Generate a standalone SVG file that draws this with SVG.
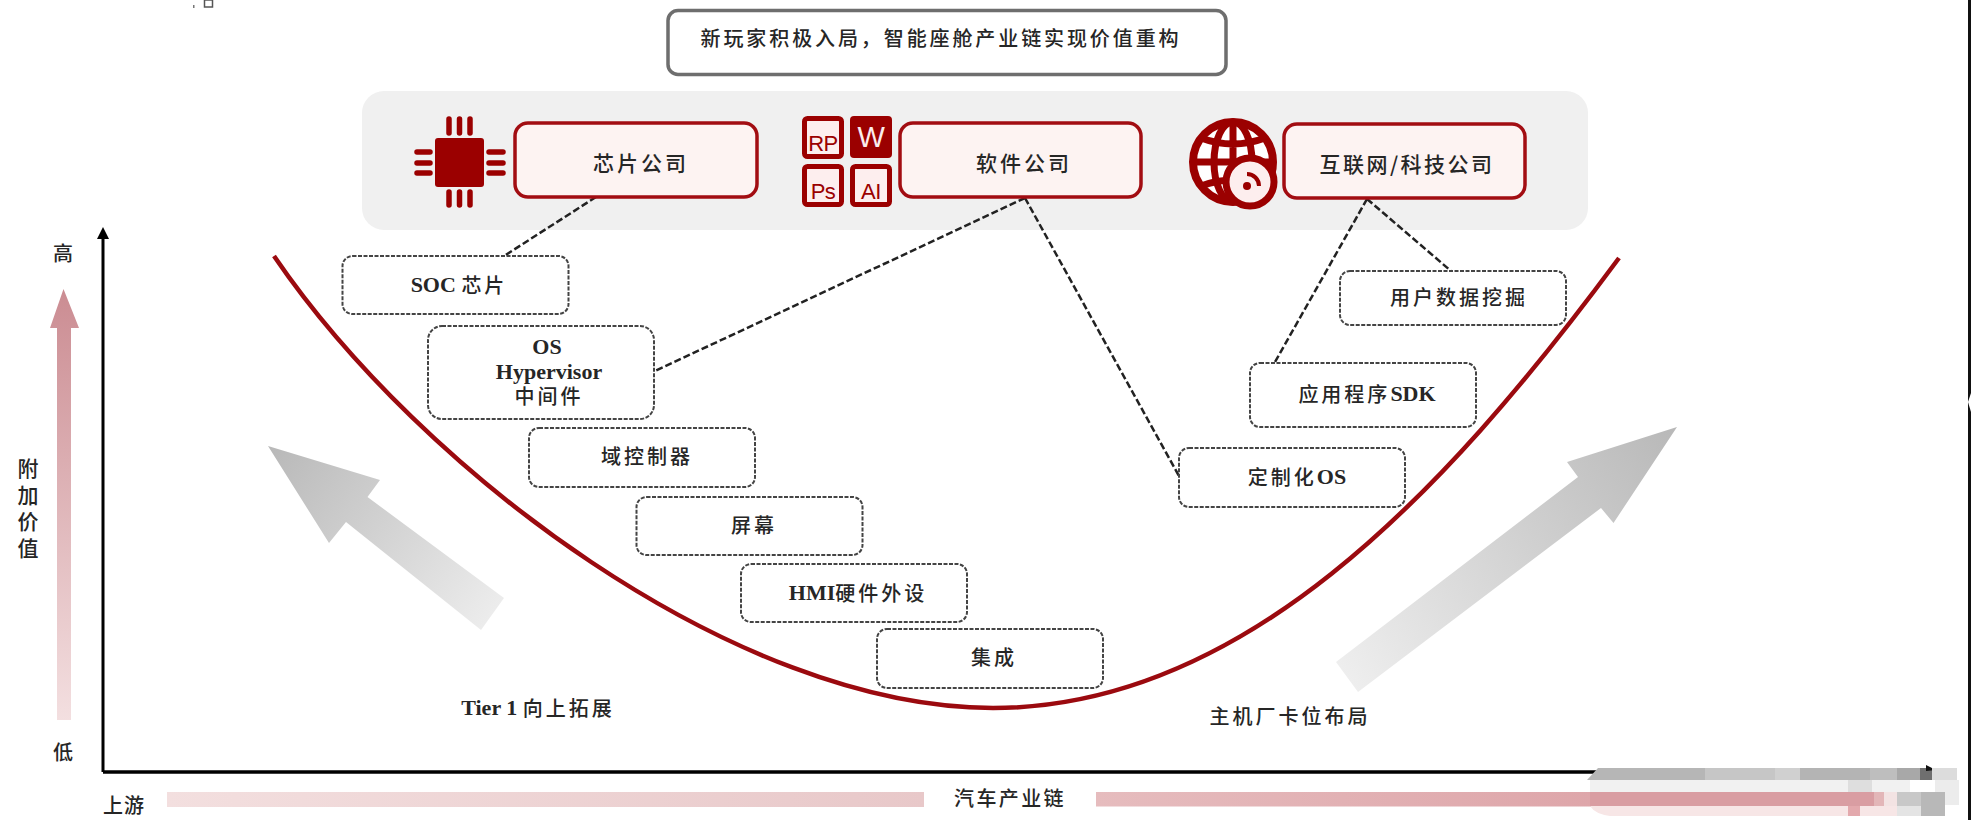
<svg xmlns="http://www.w3.org/2000/svg" width="1971" height="820" viewBox="0 0 1971 820">
<style>
text{font-family:"Liberation Serif","Noto Sans CJK SC",serif;fill:#262626;text-anchor:middle;dominant-baseline:central}
.cn{font-family:"Noto Sans CJK SC",sans-serif;font-size:20px;letter-spacing:3px;font-weight:500}
.mix{font-size:22px;font-weight:700}
.h{font-family:"Noto Sans CJK SC",sans-serif;font-weight:500;font-size:20px;letter-spacing:3px}
.top{fill:#fff;stroke:#6e6e6e;stroke-width:3.5}
.co{fill:#fdf3f2;stroke:#a20d12;stroke-width:3.5}
.dash{fill:#fff;stroke:#444;stroke-width:2;stroke-dasharray:4 1.5}
.conn{fill:none;stroke:#222;stroke-width:2.5;stroke-dasharray:7 3}
.red{fill:#9b0000}
.pin{stroke:#9b0000;stroke-width:5.5;stroke-linecap:round}
.app{fill:#fdeeee;stroke:#9b0000;stroke-width:5}
.appt{font-family:"Liberation Sans",sans-serif;fill:#9b0000;font-size:22px;letter-spacing:-.5px}
</style>
<defs>
<linearGradient id="gv" x1="0" y1="0" x2="0" y2="1"><stop offset="0" stop-color="#cb8c92"/><stop offset="1" stop-color="#f3dfe0"/></linearGradient>
<linearGradient id="gl" gradientUnits="userSpaceOnUse" x1="268" y1="446" x2="492" y2="614"><stop offset="0" stop-color="#b8b8b8"/><stop offset="1" stop-color="#ececec"/></linearGradient>
<linearGradient id="gr" gradientUnits="userSpaceOnUse" x1="1677" y1="427" x2="1346" y2="677"><stop offset="0" stop-color="#b8b8b8"/><stop offset="1" stop-color="#eeeeee"/></linearGradient>
<linearGradient id="bl"><stop offset="0" stop-color="#f3dfdf"/><stop offset="1" stop-color="#e8c8c9"/></linearGradient>
<linearGradient id="br"><stop offset="0" stop-color="#e6bcbe"/><stop offset="1" stop-color="#d9999e"/></linearGradient>
</defs>
<rect width="1971" height="820" fill="#fff"/>
<rect x="1968" y="0" width="3" height="820" fill="#111"/>
<path d="M1971 393L1968 402L1971 412Z" fill="#fff"/>
<rect x="204.500" y="0" width="8" height="7" fill="#fff" stroke="#555" stroke-width="1.500"/>
<rect x="193" y="5" width="1.500" height="3" fill="#777"/>

<g id="panel"><rect x="362" y="91" width="1226" height="139" rx="22" fill="#f0f0f0"/></g>

<g id="axes">
<path d="M103 772V235" fill="none" stroke="#000" stroke-width="3"/>
<path d="M103 227L109 239H97Z" fill="#000"/>
<path d="M103 772H1930" fill="none" stroke="#000" stroke-width="3.500"/>
<path d="M63.500 289L79 328H71V720H57V328H50Z" fill="url(#gv)"/>
<rect x="167" y="792" width="757" height="15" fill="url(#bl)"/>
<rect x="1096" y="792" width="788" height="14.500" fill="url(#br)"/>
<path d="M268 446L380 480L367.500 497L504 598L481 630L346 522L329 543Z" fill="url(#gl)"/>
<path d="M1677 427L1567 462L1578 477L1336 662L1358 692L1601 508L1613.500 523Z" fill="url(#gr)"/>
<path d="M274 256C420 470 735 708 993 708C1240 708 1440 500 1619 258" fill="none" stroke="#9b0a0f" stroke-width="4.500"/>
</g>

<g id="mosaic">
<path d="M1587 780L1598 768H1935V780Z" fill="#b6b6b6"/>
<rect x="1705" y="768" width="70" height="12" fill="#c6c6c6"/>
<rect x="1775" y="768" width="25" height="12" fill="#d0d0d0"/>
<rect x="1800" y="768" width="70" height="12" fill="#b4b4b4"/>
<rect x="1870" y="768" width="30" height="12" fill="#bebebe"/>
<rect x="1897" y="768" width="23" height="12" fill="#a8a8a8"/>
<rect x="1920" y="768" width="12" height="12" fill="#6f6f6f"/>
<path d="M1926 765L1936 770L1926 771Z" fill="#111"/>
<rect x="1932" y="768" width="25" height="12" fill="#dcdcdc"/>
<rect x="1590" y="780" width="320" height="12" fill="#f1f1f1"/>
<rect x="1848" y="780" width="24" height="12" fill="#dedede"/>
<rect x="1935" y="780" width="24" height="25" fill="#ececec"/>
<rect x="1590" y="792" width="284" height="14.500" fill="#d99da2"/>
<rect x="1874" y="792" width="10" height="14" fill="#e3b6b8"/>
<rect x="1884" y="792" width="13" height="14" fill="#f3e3e3"/>
<rect x="1897" y="792" width="48" height="14" fill="#c8c8c8"/>
<rect x="1921" y="792" width="24" height="24" fill="#b8b8b8"/>
<path d="M1590 806H1897V816H1610Q1595 814 1590 806Z" fill="#f7e6e6"/>
<rect x="1848" y="806" width="12" height="10" fill="#e3a9ad"/>
<rect x="1897" y="806" width="24" height="10" fill="#e4e4e4"/>
</g>

<g id="connectors">
<path class="conn" d="M596 197L504 256"/>
<path class="conn" d="M1025 198L655 371"/>
<path class="conn" d="M1025 198L1179 476"/>
<path class="conn" d="M1367 199L1275 362"/>
<path class="conn" d="M1367 199L1451 271"/>
</g>

<g id="n-title"><rect class="top" x="668" y="10.500" width="558" height="64" rx="10"/><text class="cn" x="941" y="37" style="letter-spacing:2.900px">新玩家积极入局，智能座舱产业链实现价值重构</text></g>

<g id="n-chip">
<g id="chip-icon">
<rect class="red" x="435" y="138" width="49" height="49" rx="3"/>
<path class="pin" d="M449 119V133M459.500 119V133M470 119V133M449 192V205M459.500 192V205M470 192V205M417 152H430M417 163H430M417 173H430M489 152H503M489 163H503M489 173H503"/>
</g>
<rect class="co" x="515" y="123" width="242" height="74" rx="13"/><text class="cn" x="641" y="162" style="font-size:21px">芯片公司</text></g>

<g id="n-soft">
<g id="app-icons">
<rect class="app" x="804.500" y="118.500" width="37" height="38" rx="3"/><text class="appt" x="823" y="143">RP</text>
<rect x="850" y="116" width="42" height="42" rx="4" class="red"/><text class="appt" x="871" y="137" style="fill:#fbecec;font-size:29px">W</text>
<rect class="app" x="804.500" y="166.500" width="37" height="38" rx="3"/><text class="appt" x="823" y="191">Ps</text>
<rect class="app" x="852.500" y="166.500" width="37" height="38" rx="3"/><text class="appt" x="871" y="191">AI</text>
</g>
<rect class="co" x="900" y="123" width="241" height="74" rx="13"/><text class="cn" x="1024" y="162" style="font-size:21px">软件公司</text></g>

<g id="n-net">
<g id="globe-icon">
<circle cx="1233" cy="162" r="40" fill="#fff" stroke="#9b0000" stroke-width="8"/>
<ellipse cx="1233" cy="162" rx="19" ry="40" fill="none" stroke="#9b0000" stroke-width="7"/>
<path d="M1233 122V202M1193 162H1273M1201 138Q1233 150 1265 138M1201 186Q1233 174 1265 186" fill="none" stroke="#9b0000" stroke-width="7"/>
<circle cx="1250" cy="182" r="24" fill="#fdeeee" stroke="#9b0000" stroke-width="7"/>
<circle cx="1247" cy="186" r="4" class="red"/>
<path d="M1247 174A12 12 0 0 1 1259 186" fill="none" stroke="#9b0000" stroke-width="4"/>
</g>
<rect class="co" x="1284" y="124" width="241" height="74" rx="13"/><text class="cn" x="1407" y="163" style="font-size:21px;letter-spacing:2.500px">互联网/科技公司</text></g>

<g id="n-soc"><rect class="dash" x="342.500" y="256" width="226" height="58" rx="10"/><text class="mix" x="459" y="284">SOC <tspan class="h">芯片</tspan></text></g>
<g id="n-os"><rect class="dash" x="428" y="326" width="226" height="93" rx="14"/><text class="mix" x="547" y="346"><tspan x="547">OS</tspan><tspan x="549" dy="25">Hypervisor</tspan><tspan class="h" x="549" dy="24">中间件</tspan></text></g>
<g id="n-dom"><rect class="dash" x="529" y="428" width="226" height="59" rx="10"/><text class="cn" x="647" y="455">域控制器</text></g>
<g id="n-screen"><rect class="dash" x="636.500" y="497" width="226" height="58" rx="10"/><text class="cn" x="754" y="524">屏幕</text></g>
<g id="n-hmi"><rect class="dash" x="741" y="564" width="226" height="58" rx="10"/><text class="mix" x="858" y="592">HMI<tspan class="h">硬件外设</tspan></text></g>
<g id="n-int"><rect class="dash" x="877" y="629" width="226" height="59" rx="10"/><text class="cn" x="994" y="656">集成</text></g>
<g id="n-cos"><rect class="dash" x="1179" y="448" width="226" height="59" rx="10"/><text class="mix" x="1297" y="476"><tspan class="h">定制化</tspan>OS</text></g>
<g id="n-sdk"><rect class="dash" x="1250" y="363" width="226" height="64" rx="10"/><text class="mix" x="1367" y="393"><tspan class="h">应用程序</tspan>SDK</text></g>
<g id="n-data"><rect class="dash" x="1340" y="271" width="226" height="54" rx="10"/><text class="cn" x="1459" y="296">用户数据挖掘</text></g>

<g id="labels">
<text class="mix" x="538" y="707">Tier 1 <tspan class="h" style="letter-spacing:3px">向上拓展</tspan></text>
<text class="cn" x="1290" y="715">主机厂卡位布局</text>
<text class="cn" x="1010" y="797" style="letter-spacing:2.400px">汽车产业链</text>
<text class="cn" x="124" y="804" style="letter-spacing:1px">上游</text>
<text class="cn" x="63" y="252" style="letter-spacing:0">高</text>
<text class="cn" x="63" y="751" style="letter-spacing:0">低</text>
<text class="cn" x="28" y="467" style="letter-spacing:0;font-size:21px"><tspan x="28">附</tspan><tspan x="28" dy="26.500">加</tspan><tspan x="28" dy="26.500">价</tspan><tspan x="28" dy="26.500">值</tspan></text>
</g>
</svg>
